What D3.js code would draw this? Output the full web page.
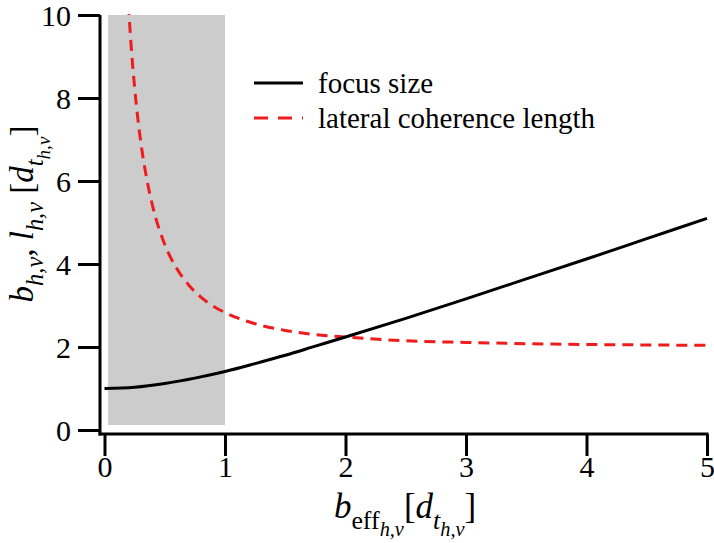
<!DOCTYPE html>
<html>
<head>
<meta charset="utf-8">
<script src="https://cdn.jsdelivr.net/npm/d3@7"></script>
<style>
  html, body { margin: 0; padding: 0; background: #fff; }
  svg { display: block; }
</style>
</head>
<body>
<svg id="chart" width="714" height="543"></svg>
<script>
// ---- data ----
const xTicks = [0, 1, 2, 3, 4, 5];
const yTicks = [0, 2, 4, 6, 8, 10];

const focusX    = [0, 0.25, 0.5, 0.75, 1, 1.25, 1.5, 1.75, 2, 2.5, 3, 3.5, 4, 4.5, 5];
const focusSize = [1.00, 1.03, 1.12, 1.25, 1.41, 1.60, 1.80, 2.02, 2.24, 2.69, 3.16, 3.64, 4.12, 4.61, 5.10];

const cohX      = [0.19, 0.22, 0.25, 0.3, 0.35, 0.4, 0.5, 0.6, 0.7, 0.8, 0.9, 1.0, 1.25, 1.5, 1.75, 2, 2.5, 3, 3.5, 4, 4.5, 5];
const cohLength = [10.7, 9.3, 8.25, 6.96, 6.06, 5.39, 4.47, 3.89, 3.49, 3.20, 2.99, 2.83, 2.56, 2.40, 2.30, 2.24, 2.15, 2.11, 2.08, 2.06, 2.05, 2.04];

const shadeX = [0.03, 1.0];
const shadeY = [0.12, 10];

const legendLabels = ["focus size", "lateral coherence length"];

// ---- layout ----
const FONT = "'Liberation Serif', 'DejaVu Serif', 'Noto Serif', FreeSerif, serif";
const svg = d3.select("#chart");
const x = d3.scaleLinear().domain([0, 5]).range([104.5, 707]);
const y = d3.scaleLinear().domain([0, 10]).range([430, 15]);
const axisX = 100;   // y-axis line position (offset from x=0)
const axisY = 434;   // x-axis line position (offset from y=0)

// clip
svg.append("defs").append("clipPath").attr("id", "plotclip")
  .append("rect").attr("x", axisX).attr("y", y(10) - 1)
  .attr("width", x(5) - axisX + 5).attr("height", axisY - y(10));

// shaded region
svg.append("rect")
  .attr("x", x(shadeX[0])).attr("y", y(shadeY[1]))
  .attr("width", x(shadeX[1]) - x(shadeX[0]))
  .attr("height", y(shadeY[0]) - y(shadeY[1]))
  .attr("fill", "#cccccc");

// lines
const lineGen = d3.line().x(d => x(d[0])).y(d => y(d[1])).curve(d3.curveMonotoneX);
const g = svg.append("g").attr("clip-path", "url(#plotclip)");
g.append("path")
  .attr("d", lineGen(cohX.map((v, i) => [v, cohLength[i]])))
  .attr("fill", "none").attr("stroke", "#ee1c1c").attr("stroke-width", 3)
  .attr("stroke-dasharray", "11,7");
g.append("path")
  .attr("d", lineGen(focusX.map((v, i) => [v, focusSize[i]])))
  .attr("fill", "none").attr("stroke", "#000").attr("stroke-width", 3);

// axes
const yAxis = d3.axisLeft(y).tickValues(yTicks).tickFormat(d3.format("d"))
  .tickSize(22).tickSizeOuter(0).tickPadding(7);
const yg = svg.append("g").attr("transform", `translate(${axisX},0)`).call(yAxis);
const xAxis = d3.axisBottom(x).tickValues(xTicks).tickFormat(d3.format("d"))
  .tickSize(22).tickSizeOuter(0).tickPadding(0);
const xg = svg.append("g").attr("transform", `translate(0,${axisY})`).call(xAxis);
[yg, xg].forEach(a => {
  a.attr("font-family", null);
  a.select(".domain").remove();
  a.selectAll(".tick line").attr("stroke", "#000").attr("stroke-width", 3);
  a.selectAll(".tick text").attr("font-size", 30).attr("fill", "#000")
    .style("font-family", FONT);
});
yg.selectAll(".tick text").attr("dy", "0.34em");
svg.append("line").attr("x1", axisX).attr("x2", axisX).attr("y1", y(10)).attr("y2", axisY + 1.5)
  .attr("stroke", "#000").attr("stroke-width", 3);
svg.append("line").attr("x1", axisX - 1.5).attr("x2", x(5) + 1.5).attr("y1", axisY).attr("y2", axisY)
  .attr("stroke", "#000").attr("stroke-width", 3);

// legend
const leg = svg.append("g");
leg.append("line").attr("x1", 254).attr("x2", 303).attr("y1", 83).attr("y2", 83)
  .attr("stroke", "#000").attr("stroke-width", 3);
leg.append("line").attr("x1", 254).attr("x2", 303).attr("y1", 118).attr("y2", 118)
  .attr("stroke", "#ee1c1c").attr("stroke-width", 3).attr("stroke-dasharray", "14,10");
leg.append("text").attr("x", 318).attr("y", 93).attr("font-size", 29)
  .style("font-family", FONT).text(legendLabels[0]);
leg.append("text").attr("x", 318).attr("y", 128).attr("font-size", 29)
  .style("font-family", FONT).text(legendLabels[1]);

// math text helper: segments [text, italic, level]
function mathText(sel, segs, base) {
  const off = [0, 0.3, 0.5];
  const size = [1, 0.74, 0.58];
  let prev = 0;
  segs.forEach(s => {
    const lvl = s[2];
    const o = off[lvl] * base;
    sel.append("tspan")
      .attr("dy", o - prev)
      .attr("font-size", size[lvl] * base)
      .attr("font-style", s[1] ? "italic" : "normal")
      .style("font-family", FONT)
      .text(s[0]);
    prev = o;
  });
}

const ySegs = [["b", 1, 0], ["h,v", 1, 1], [", ", 0, 0], ["l", 1, 0], ["h,v", 1, 1],
               [" [", 0, 0], ["d", 1, 0], ["t", 1, 1], ["h,v", 1, 2], ["]", 0, 0]];
const yt = svg.append("text").attr("text-anchor", "middle")
  .attr("transform", "translate(33,214) rotate(-90)");
mathText(yt, ySegs, 33);

const xSegs = [["b", 1, 0], ["eff", 0, 1], ["h,v", 1, 2], ["[", 0, 0], ["d", 1, 0],
               ["t", 1, 1], ["h,v", 1, 2], ["]", 0, 0]];
const xt = svg.append("text").attr("text-anchor", "middle")
  .attr("x", 405).attr("y", 518);
mathText(xt, xSegs, 35);
</script>
</body>
</html>
